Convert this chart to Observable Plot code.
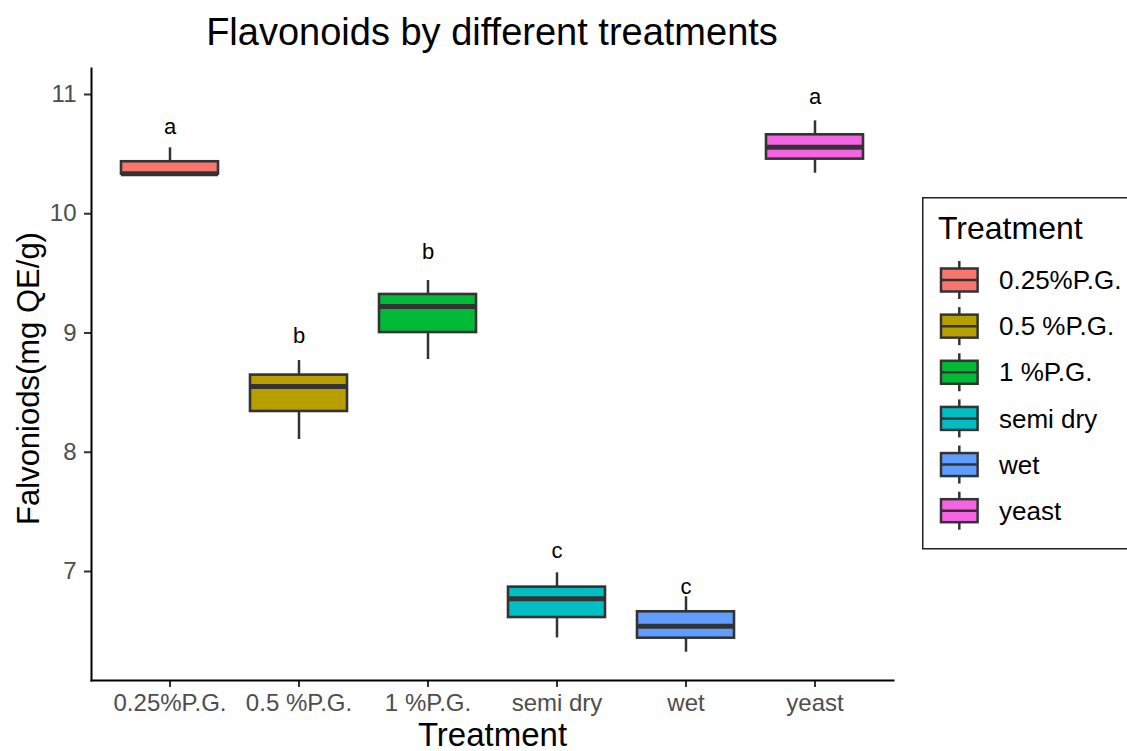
<!DOCTYPE html>
<html>
<head>
<meta charset="utf-8">
<script src="https://cdn.jsdelivr.net/npm/d3@7"></script>
<script src="https://cdn.jsdelivr.net/npm/@observablehq/plot@0.6"></script>
<style>
  html, body { margin: 0; padding: 0; background: #fff; overflow: hidden; }
  #chart { position: relative; width: 1127px; height: 751px; font-family: "Liberation Sans", Arial, sans-serif; }
  #title { position: absolute; left: 0; top: 13px; width: 984px; text-align: center;
           font-size: 38px; line-height: 38px; color: #000; }
  #plot { position: absolute; left: 0; top: 60px; }
  #legend { position: absolute; left: 922px; top: 197px; }
</style>
</head>
<body>
<div id="chart">
  <div id="title">Flavonoids by different treatments</div>
  <div id="plot"></div>
  <div id="legend"></div>
</div>
<script>
// Flavonoid content per treatment: box-plot summaries (mg QE/g)
const treatments = ["0.25%P.G.", "0.5 %P.G.", "1 %P.G.", "semi dry", "wet", "yeast"];
const colors     = ["#F8766D", "#B79F00", "#00BA38", "#00BFC4", "#619CFF", "#F564E3"];
const minVals    = [10.33, 8.107, 8.778, 6.443, 6.323, 10.340];
const q1Vals     = [10.332, 8.342, 9.004, 6.614, 6.441, 10.458];
const medianVals = [10.335, 8.551, 9.222, 6.771, 6.541, 10.558];
const q3Vals     = [10.436, 8.647, 9.323, 6.869, 6.662, 10.662];
const maxVals    = [10.553, 8.769, 9.440, 6.989, 6.788, 10.779];
// significance groups and where their letters sit
const groups     = ["a", "b", "b", "c", "c", "a"];
const groupY     = [10.732, 8.979, 9.683, 7.176, 6.874, 10.983];
const yTicks     = [7, 8, 9, 10, 11];

const rows = treatments.map((t, i) => ({
  treatment: t, min: minVals[i], q1: q1Vals[i], median: medianVals[i],
  q3: q3Vals[i], max: maxVals[i], group: groups[i], groupY: groupY[i]
}));

const font = "'Liberation Sans', Arial, sans-serif";
const boxStroke = "#333333";

const plot = Plot.plot({
  width: 1127,
  height: 691,
  marginTop: 8,
  marginLeft: 91,
  marginRight: 234,
  marginBottom: 71,
  style: { fontFamily: font, background: "transparent", overflow: "visible" },
  x: { type: "band", domain: treatments, paddingInner: 0.25, paddingOuter: 0.225, axis: null },
  y: { domain: [6.086, 11.218], axis: null },
  color: { domain: treatments, range: colors },
  marks: [
    // upper and lower whiskers
    Plot.ruleX(rows, { x: "treatment", y1: "q3", y2: "max", stroke: boxStroke, strokeWidth: 2.5 }),
    Plot.ruleX(rows, { x: "treatment", y1: "min", y2: "q1", stroke: boxStroke, strokeWidth: 2.5 }),
    // interquartile boxes
    Plot.barY(rows, { x: "treatment", y1: "q1", y2: "q3", fill: "treatment", stroke: boxStroke, strokeWidth: 2.6 }),
    // medians
    Plot.tickY(rows, { x: "treatment", y: "median", stroke: boxStroke, strokeWidth: 5 }),
    // group letters
    Plot.text(rows, { x: "treatment", y: "groupY", text: "group", fontSize: 22, fill: "#000", lineAnchor: "middle" }),
    // axes
    Plot.axisY(yTicks, { tickSize: 7, tickPadding: 8, fontSize: 24, fill: "#4D4D4D", stroke: boxStroke, strokeWidth: 2,
                         tickFormat: d3.format("d"), label: null }),
    Plot.axisX({ tickSize: 7, tickPadding: 6, fontSize: 24, fill: "#4D4D4D", stroke: boxStroke, strokeWidth: 2, label: null }),
    Plot.frame({ anchor: "left", stroke: "#000", strokeWidth: 2 }),
    Plot.frame({ anchor: "bottom", stroke: "#000", strokeWidth: 2 }),
    // axis titles
    Plot.text(["Treatment"], { frameAnchor: "bottom", dy: 55, fontSize: 33, fill: "#000",
                               textAnchor: "middle", lineAnchor: "middle" }),
    Plot.text(["Falvoniods(mg QE/g)"], { frameAnchor: "left", dx: -62, dy: 4, rotate: -90, fontSize: 31, fill: "#000",
                                         textAnchor: "middle", lineAnchor: "middle" })
  ]
});
document.getElementById("plot").appendChild(plot);

// Legend with box-plot keys
const rowGap = 46.14;
const legend = d3.select("#legend").append("svg")
  .attr("width", 220).attr("height", 353)
  .style("font-family", font);
legend.append("rect").attr("x", 0.75).attr("y", 0.75).attr("width", 240).attr("height", 351)
  .attr("fill", "#fff").attr("stroke", "#222").attr("stroke-width", 1.5);
legend.append("text").attr("x", 16).attr("y", 42).attr("font-size", 32).attr("fill", "#000").text("Treatment");
const item = legend.selectAll("g.item").data(treatments).join("g")
  .attr("class", "item")
  .attr("transform", (d, i) => `translate(0,${83 + i * rowGap})`);
item.append("line").attr("x1", 37.3).attr("x2", 37.3).attr("y1", -19).attr("y2", 19)
  .attr("stroke", boxStroke).attr("stroke-width", 2.5);
item.append("rect").attr("x", 19).attr("y", -11.5).attr("width", 36.6).attr("height", 23)
  .attr("fill", (d, i) => colors[i]).attr("stroke", boxStroke).attr("stroke-width", 2.5);
item.append("line").attr("x1", 19).attr("x2", 55.6).attr("y1", 0).attr("y2", 0)
  .attr("stroke", boxStroke).attr("stroke-width", 2.5);
item.append("text").attr("x", 77).attr("y", 0).attr("dy", "0.35em")
  .attr("font-size", 26).attr("fill", "#000").text(d => d);
</script>
</body>
</html>
